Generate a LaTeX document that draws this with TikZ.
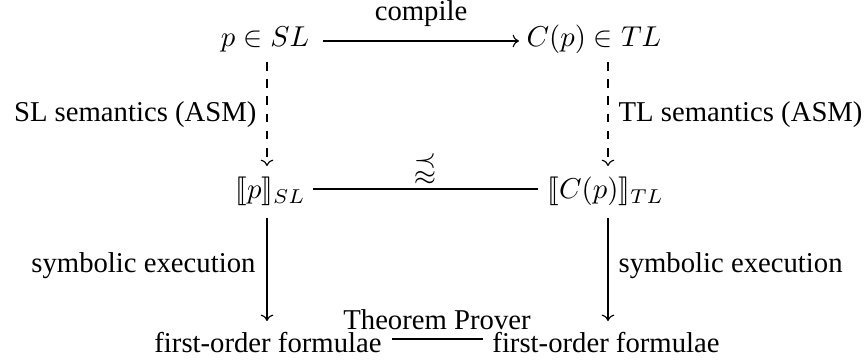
\documentclass[tikz,border=0pt]{standalone}
\usepackage{amssymb}
\usepackage{stmaryrd}
\usepackage[no-math]{fontspec}
\setmainfont{Liberation Serif}
\usetikzlibrary{arrows.meta}
\begin{document}
\begin{tikzpicture}[x=0.3484pt,y=-0.3484pt,
  lbl/.style={inner sep=0pt,font=\fontsize{10}{12}\selectfont},
  arr/.style={line width=0.4pt,-{Computer Modern Rightarrow[length=2.2pt,width=4.4pt]}},
  darr/.style={arr,dash pattern=on 3pt off 3pt},
  ln/.style={line width=0.4pt}]
\useasboundingbox (0,0) rectangle (868,361);
% top row
\node[lbl,anchor=base] (p) at (265,47) {$p\in SL$};
\node[lbl,anchor=base west] (cp) at (526,47) {$C(p)\in TL$};
\coordinate (ta) at (323,41);
\coordinate (tb) at (519,41);
\draw[arr] (ta) -- (tb) node[lbl,midway,anchor=base,yshift=20*0.3484pt] (comp) {compile};
% dashed arrows
\coordinate (d1a) at (267,62);
\coordinate (d1b) at (267,166);
\coordinate (d2a) at (608,62);
\coordinate (d2b) at (608,166);
\draw[darr] (d1a) -- (d1b);
\draw[darr] (d2a) -- (d2b);
\node[lbl,anchor=base east] (sls) at (257,122) {SL semantics (ASM)};
\node[lbl,anchor=base west] (tls) at (618,122) {TL semantics (ASM)};
% middle row
\node[lbl,anchor=base west] (sp) at (235,199) {$\llbracket p\rrbracket_{SL}$};
\node[lbl,anchor=base west] (scp) at (547,199) {$\llbracket C(p)\rrbracket_{TL}$};
\coordinate (ma) at (313,189);
\coordinate (mb) at (538,189);
\draw[ln] (ma) -- (mb);
\node[lbl,anchor=base] (sim) at (425,176) {$\precapprox$};
% solid arrows
\coordinate (s1a) at (267,218);
\coordinate (s1b) at (267,321);
\coordinate (s2a) at (608,218);
\coordinate (s2b) at (608,321);
\draw[arr] (s1a) -- (s1b);
\draw[arr] (s2a) -- (s2b);
\node[lbl,anchor=base east] (se1) at (256,273) {symbolic execution};
\node[lbl,anchor=base west] (se2) at (618,273) {symbolic execution};
% bottom row
\node[lbl,anchor=base] (f1) at (268,353) {first-order formulae};
\node[lbl,anchor=base] (f2) at (606,353) {first-order formulae};
\coordinate (ba) at (392,339);
\coordinate (bb) at (483,339);
\draw[ln] (ba) -- (bb);
\node[lbl,anchor=base] (tp) at (437,330) {Theorem Prover};
\end{tikzpicture}
\end{document}
